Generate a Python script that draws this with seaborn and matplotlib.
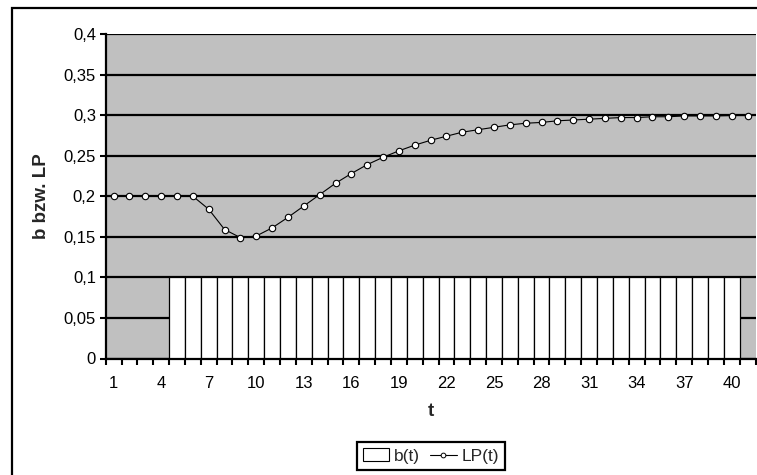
import numpy as np
import pandas as pd
import matplotlib
matplotlib.use("Agg")
import matplotlib.pyplot as plt
from matplotlib.patches import Patch, Rectangle
from matplotlib.lines import Line2D
from matplotlib.ticker import FixedLocator, FuncFormatter
import seaborn as sns

# Time steps and the two series
t = list(range(1, 42))
b = [0.0] * 4 + [0.1] * 36 + [0.0]
lp = [0.2, 0.2, 0.2, 0.2, 0.2, 0.2, 0.184, 0.159, 0.149, 0.151,
      0.161, 0.174, 0.188, 0.202, 0.216, 0.228, 0.239, 0.248, 0.256, 0.263,
      0.269, 0.274, 0.279, 0.282, 0.285, 0.288, 0.290, 0.291, 0.293, 0.294,
      0.295, 0.296, 0.297, 0.297, 0.298, 0.298, 0.299, 0.299, 0.299, 0.2995,
      0.2995]
y_ticks = [0, 0.05, 0.1, 0.15, 0.2, 0.25, 0.3, 0.35, 0.4]

df = pd.DataFrame({"t": t, "b": b, "LP": lp})

sns.set_theme(style="white")
plt.rcParams["font.family"] = ["Liberation Sans", "DejaVu Sans"]

W, H = 757, 475
fig = plt.figure(figsize=(W / 100, H / 100), dpi=100)
fig.patch.set_facecolor("white")
ax = fig.add_axes([105.7 / W, (H - 358.5) / H, (755.5 - 105.7) / W, (358.5 - 34) / H])
ax.set_facecolor("#C0C0C0")

# Bars b(t): white, touching, black outline
sns.barplot(data=df, x="t", y="b", order=t, width=1.0, color="white",
            edgecolor="black", linewidth=0.9, saturation=1, ax=ax, zorder=3)

# Line LP(t) with hollow circle markers
sns.lineplot(x=np.arange(len(t)), y=df["LP"], ax=ax, color="black", linewidth=0.8,
             marker="o", markersize=4.6, markerfacecolor="white",
             markeredgecolor="black", markeredgewidth=0.8, zorder=5)

ax.set_xlim(-0.5, len(t) - 0.5)
ax.set_ylim(0, 0.4)

# Horizontal gridlines (behind bars)
ax.set_axisbelow(True)
ax.yaxis.set_major_locator(FixedLocator(y_ticks))
ax.yaxis.set_major_formatter(FuncFormatter(lambda v, p: f"{v:g}".replace(".", ",")))
ax.grid(axis="y", color="black", linewidth=1.6)
ax.grid(axis="x", visible=False)
for gl in ax.get_ygridlines():
    if abs(gl.get_ydata()[0] - 0.4) < 1e-9:
        gl.set_visible(False)

# X labels every third step; ticks on category boundaries
label_pos = list(range(0, len(t), 3))
ax.xaxis.set_major_locator(FixedLocator(label_pos))
ax.set_xticklabels([str(t[i]) for i in label_pos])
ax.xaxis.set_minor_locator(FixedLocator(np.arange(-0.5, len(t), 1.0)))
ax.tick_params(axis="x", which="major", length=0, pad=12.5, labelsize=12, colors="black")
ax.tick_params(axis="x", which="minor", length=4.5, width=1.5, color="black", bottom=True)
ax.tick_params(axis="y", which="major", length=4.5, width=1.5, pad=2.5, labelsize=12,
               colors="black", left=True)

for side in ["top", "right"]:
    ax.spines[side].set_visible(False)
for side in ["left", "bottom"]:
    ax.spines[side].set_color("black")
    ax.spines[side].set_linewidth(1.6)
    ax.spines[side].set_zorder(6)

ax.set_xlabel("t", fontsize=13.5, fontweight="bold", labelpad=8.5)
ax.set_ylabel("b bzw. LP", fontsize=13.5, fontweight="bold", labelpad=10)

# Legend
handles = [
    Patch(facecolor="white", edgecolor="black", linewidth=0.8, label="b(t)"),
    Line2D([0], [0], color="black", linewidth=0.8, marker="o", markersize=3.4,
           markerfacecolor="white", markeredgecolor="black", markeredgewidth=0.7,
           label="LP(t)"),
]
leg = ax.legend(handles=handles, loc="center", bbox_to_anchor=(431 / W, (H - 456) / H),
                bbox_transform=fig.transFigure, ncol=2, fontsize=12.5, frameon=True,
                fancybox=False, edgecolor="black", handlelength=1.5, handleheight=0.75,
                handletextpad=0.3, columnspacing=0.6, borderpad=0.35, borderaxespad=0)
leg.get_frame().set_linewidth(1.6)
leg.get_frame().set_facecolor("white")
leg.get_frame().set_alpha(1)

# Outer chart border
fig.patches.append(Rectangle((12 / W, -0.2), 1.2, (H - 8) / H + 0.2,
                             transform=fig.transFigure, fill=False,
                             edgecolor="black", linewidth=1.6, clip_on=False))

fig.savefig("out.png", dpi=100)
